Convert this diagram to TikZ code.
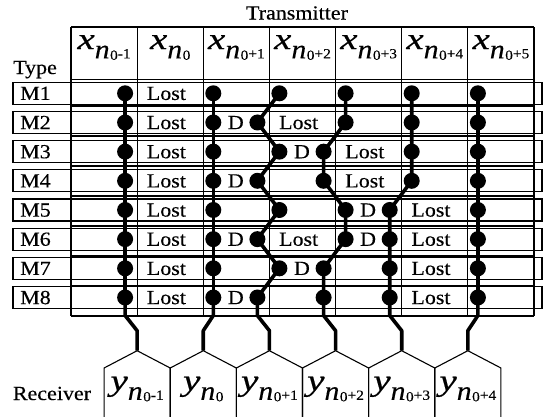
\documentclass[tikz,border=0pt]{standalone}
\usepackage{fontspec}
\setmainfont{Liberation Serif}[FakeStretch=1.1, FakeBold=0.3]
\newfontfamily\labfont{Liberation Serif}[FakeStretch=1.3, FakeBold=0.5]
\usetikzlibrary{calc}
\pgfdeclarelayer{gridlayer}
\pgfdeclarelayer{wirelayer}
\pgfsetlayers{gridlayer,wirelayer,main}
\newcommand\vlab[2]{{\labfont\itshape #1}\raisebox{-9.3pt}{\fontsize{27}{30}\selectfont\itshape n\kern0.5pt\upshape\fontsize{14}{16}\selectfont\raisebox{-1.5pt}{0}#2}}
\tikzset{
  thinline/.style={line width=1.1pt, draw=black},
  wire/.style={line width=3.6pt, line join=round, draw=black},
  dot/.style={circle, fill=black, inner sep=0pt, minimum size=16pt},
  lbl/.style={font=\fontsize{20}{24}\selectfont, inner sep=0pt},
  big/.style={font=\fontsize{30}{34}\selectfont, inner sep=0pt},
}
\begin{document}
\begin{tikzpicture}[x=1pt,y=-1pt]
\useasboundingbox (0,0) rectangle (544,416);
% ---------- grid and row boxes
\begin{pgfonlayer}{gridlayer}
\foreach \i in {0,...,7} \draw[thinline] ({71+66.143*\i},27) -- ({71+66.143*\i},316);
\draw[thinline] (71,27) -- (534,27);
\draw[thinline] (71,79.5) -- (534,79.5);
\foreach \i in {0,...,7} \draw[thinline] (71,{106+30*\i}) -- (534,{106+30*\i});
\foreach \k in {1,...,8} \draw[thinline] (13,{93.3+29.17*(\k-1)-11}) rectangle (542,{93.3+29.17*(\k-1)+11});
\end{pgfonlayer}
% ---------- titles
\node[lbl, anchor=base] (title) at (297,19.5) {Transmitter};
\node[lbl, anchor=base west] (type) at (13,74) {Type};
\node[lbl, anchor=base west] (recv) at (12.7,400) {Receiver};
\foreach \i/\s in {1/{-1},2/{},3/{+1},4/{+2},5/{+3},6/{+4},7/{+5}}
  \node[big, anchor=base] (h\i) at ({71+66.143*(\i-0.5)},49) {\vlab{x}{\s}};
% ---------- row labels
\foreach \k in {1,...,8}
  \node[lbl, anchor=base west] (m\k) at (20,{93.3+29.17*(\k-1)+6.6}) {M\k};
% ---------- Lost and D
\foreach \r/\c in {1/2,2/2,3/2,4/2,5/2,6/2,7/2,8/2,2/4,3/5,4/5,5/6,6/4,6/6,7/6,8/6}
  \node[lbl, anchor=base west] (lost\r\c) at ({71+66.143*(\c-1)+9.5},{93.3+29.17*(\r-1)+6.6}) {Lost};
\foreach \r/\c in {2/3,3/4,4/3,5/5,6/3,6/5,7/4,8/3}
  \node[lbl, anchor=base] (d\r\c) at ({71+66.143*(\c-1)+32.5},{93.3+29.17*(\r-1)+6.6}) {D};
% ---------- dots
\foreach \k in {1,...,8} {
  \node[dot] (A\k) at (125.1,{93.3+29.17*(\k-1)}) {};
  \node[dot] (B\k) at (213.3,{93.3+29.17*(\k-1)}) {};
  \node[dot] (F\k) at (477.9,{93.3+29.17*(\k-1)}) {};
}
\foreach \k/\x in {1/279.4,2/257.4,3/279.4,4/257.4,5/279.4,6/257.4,7/279.4,8/257.4}
  \node[dot] (C\k) at (\x,{93.3+29.17*(\k-1)}) {};
\foreach \k/\x in {1/345.6,2/345.6,3/323.6,4/323.6,5/345.6,6/345.6,7/323.6,8/323.6}
  \node[dot] (D\k) at (\x,{93.3+29.17*(\k-1)}) {};
\foreach \k/\x in {1/411.7,2/411.7,3/411.7,4/411.7,5/389.7,6/389.7,7/389.7,8/389.7}
  \node[dot] (E\k) at (\x,{93.3+29.17*(\k-1)}) {};
% ---------- receivers
\foreach \k/\s in {1/{-1},2/{},3/{+1},4/{+2},5/{+3},6/{+4}} {
  \pgfmathsetmacro\cx{137.14+66.143*(\k-1)}
  \draw[thinline] (\cx-33.07,418) -- (\cx-33.07,368) -- (\cx,350.7) -- (\cx+33.07,368) -- (\cx+33.07,418);
  \coordinate (R\k) at (\cx,350.7);
  \node[big, anchor=base] (y\k) at (\cx,390.5) {\vlab{y}{\s}};
}
% ---------- wires
\begin{pgfonlayer}{wirelayer}
\foreach \p/\i in {A/1,B/2,C/3,D/4,E/5,F/6} {
  \draw[wire] (\p1.center) \foreach \k in {2,...,8} {-- (\p\k.center)};
  \draw[wire] (\p8.center) -- ++(0,18) -- ($(R\i)+(0,-20)$) -- (R\i);
}
\end{pgfonlayer}
\end{tikzpicture}
\end{document}
